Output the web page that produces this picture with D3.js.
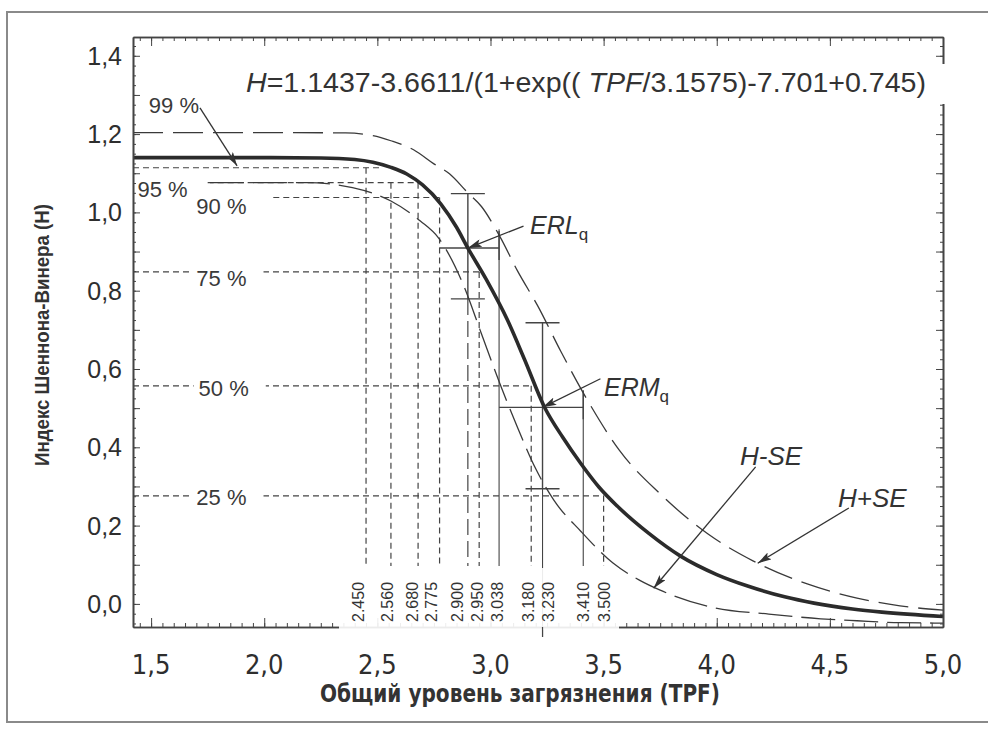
<!DOCTYPE html>
<html>
<head>
<meta charset="utf-8">
<script src="https://cdn.jsdelivr.net/npm/d3@7"></script>
<style>
  body { margin: 0; background: #fff; }
  svg { display: block; font-family: "Liberation Sans", Arial, sans-serif; }
</style>
</head>
<body>
<svg id="chart" width="988" height="730"></svg>
<script>
// ---- data ----
const xTicks = [1.5, 2.0, 2.5, 3.0, 3.5, 4.0, 4.5, 5.0];
const yTicks = [0.0, 0.2, 0.4, 0.6, 0.8, 1.0, 1.2, 1.4];

// fitted curve H
const mainTPF = [1.42, 1.94, 2.25, 2.40, 2.48, 2.56, 2.63, 2.70, 2.78, 2.85, 2.90, 2.98, 3.075, 3.15, 3.24, 3.32, 3.40, 3.48, 3.56, 3.70, 3.84, 4.00, 4.14, 4.30, 4.43, 4.60, 4.73, 5.0];
const mainH   = [1.140, 1.140, 1.139, 1.135, 1.128, 1.115, 1.098, 1.070, 1.022, 0.962, 0.909, 0.830, 0.725, 0.625, 0.501, 0.425, 0.358, 0.298, 0.250, 0.180, 0.122, 0.075, 0.045, 0.018, 0.002, -0.013, -0.021, -0.032];

// H+SE
const upperTPF = [1.42, 2.0, 2.36, 2.48, 2.56, 2.66, 2.75, 2.82, 2.90, 2.96, 3.04, 3.12, 3.21, 3.31, 3.43, 3.57, 3.75, 3.96, 4.16, 4.40, 4.62, 4.81, 5.0];
const upperH   = [1.204, 1.204, 1.203, 1.196, 1.183, 1.160, 1.124, 1.098, 1.050, 1.015, 0.940, 0.850, 0.760, 0.646, 0.519, 0.392, 0.281, 0.179, 0.110, 0.051, 0.015, -0.005, -0.016];

// H-SE
const lowerTPF = [1.76, 2.19, 2.39, 2.56, 2.69, 2.77, 2.88, 2.96, 3.04, 3.12, 3.20, 3.28, 3.40, 3.54, 3.66, 3.75, 3.99, 4.23, 4.46, 4.62, 4.81, 5.0];
const lowerH   = [1.076, 1.076, 1.063, 1.029, 0.978, 0.935, 0.815, 0.690, 0.565, 0.450, 0.345, 0.265, 0.185, 0.105, 0.060, 0.035, -0.010, -0.026, -0.038, -0.043, -0.048, -0.049];

// percentage levels
const pctLabels = ["99 %", "95 %", "90 %", "75 %", "50 %", "25 %"];
const pctH      = [1.114, 1.076, 1.038, 0.848, 0.557, 0.276];
const pctFrom   = [1.42, 1.75, 2.04, 1.42, 1.42, 1.42];
const pctTo     = [2.52, 2.68, 2.775, 2.95, 3.18, 3.50];

// drop lines to the TPF axis
const dropTPF  = [2.450, 2.560, 2.680, 2.775, 2.900, 2.950, 3.038, 3.180, 3.230, 3.410, 3.500];
const dropFrom = [1.114, 1.076, 1.076, 1.038, 0.779, 0.848, 0.957, 0.557, 0.294, 0.540, 0.276];

// ERL / ERM error crosses
const errNames = ["ERL", "ERM"];
const errX   = [2.900, 3.230];
const errY   = [0.909, 0.502];
const errXLo = [2.775, 3.038];
const errXHi = [3.038, 3.410];
const errYLo = [0.779, 0.294];
const errYHi = [1.048, 0.718];

// ---- drawing ----
const svg = d3.select("#chart");
const x = d3.scaleLinear().domain([1.42, 5.0]).range([133, 943]);
const y = d3.scaleLinear().domain([-0.059, 1.448]).range([627, 37]);
const ruLocale = d3.formatLocale({decimal: ",", thousands: " ", grouping: [3], currency: ["", ""]});
const f1 = ruLocale.format(".1f");

svg.append("rect").attr("width", 988).attr("height", 730).attr("fill", "#fff");
// outer frame of the scanned page
svg.append("rect").attr("x", 7).attr("y", 12).attr("width", 1000).attr("height", 710)
  .attr("fill", "none").attr("stroke", "#8a8a8a").attr("stroke-width", 2);

const defs = svg.append("defs");
defs.append("marker").attr("id", "arr").attr("viewBox", "0 0 14 8")
  .attr("refX", 14).attr("refY", 4).attr("markerWidth", 14).attr("markerHeight", 8)
  .attr("markerUnits", "userSpaceOnUse").attr("orient", "auto")
  .append("path").attr("d", "M0,0 L14,4 L0,8 L3,4 z").attr("fill", "#333");

const line = d3.line().x(d => x(d[0])).y(d => y(d[1])).curve(d3.curveMonotoneX);
const plot = svg.append("g");

// percentage lines
pctH.forEach((h, i) => {
  plot.append("line")
    .attr("x1", x(pctFrom[i])).attr("x2", x(pctTo[i]))
    .attr("y1", y(h)).attr("y2", y(h))
    .attr("stroke", "#444").attr("stroke-width", 1.2).attr("stroke-dasharray", "6,4");
});

// drop lines
const solidDrops = [3.038, 3.230, 3.410];
dropTPF.forEach((t, i) => {
  let dash = "6,4";
  if (solidDrops.includes(t)) dash = null;
  if (t === 2.900) dash = "16,6";
  plot.append("line")
    .attr("x1", x(t)).attr("x2", x(t))
    .attr("y1", y(dropFrom[i])).attr("y2", t === 3.230 ? 637 : 566)
    .attr("stroke", "#444").attr("stroke-width", solidDrops.includes(t) ? 1.1 : 1.2)
    .attr("stroke-dasharray", dash);
});

// error crosses
errX.forEach((cx, i) => {
  const g = plot.append("g").attr("stroke", "#444").attr("stroke-width", 1.4);
  g.append("line").attr("x1", x(cx)).attr("x2", x(cx)).attr("y1", y(errYLo[i])).attr("y2", y(errYHi[i]));
  g.append("line").attr("x1", x(errXLo[i])).attr("x2", x(errXHi[i])).attr("y1", y(errY[i])).attr("y2", y(errY[i]));
  [errYLo[i], errYHi[i]].forEach(v => {
    g.append("line").attr("x1", x(cx) - 17).attr("x2", x(cx) + 17).attr("y1", y(v)).attr("y2", y(v));
  });
  g.append("line").attr("x1", x(errXHi[i])).attr("x2", x(errXHi[i]))
    .attr("y1", y(errY[i]) - 17).attr("y2", y(errY[i]) + 12);
});

// SE curves and fitted curve
plot.append("path").datum(d3.zip(upperTPF, upperH)).attr("d", line)
  .attr("fill", "none").attr("stroke", "#3a3a3a").attr("stroke-width", 1.3).attr("stroke-dasharray", "30,10");
plot.append("path").datum(d3.zip(lowerTPF, lowerH)).attr("d", line)
  .attr("fill", "none").attr("stroke", "#3a3a3a").attr("stroke-width", 1.3).attr("stroke-dasharray", "34,9");
plot.append("path").datum(d3.zip(mainTPF, mainH)).attr("d", line)
  .attr("fill", "none").attr("stroke", "#2b2b2b").attr("stroke-width", 3.6);

// axes
function ticks(axis, vals, size) {
  return axis.tickValues(vals).tickSize(size).tickSizeOuter(0).tickFormat("");
}
const minorX = d3.range(1.45, 5.001, 0.05);
const minorY = d3.range(-0.05, 1.446, 0.025);
const majorY = d3.range(0, 1.41, 0.1);
const axes = svg.append("g").attr("color", "#444");
axes.append("g").attr("transform", "translate(0,627)").call(ticks(d3.axisBottom(x), minorX, -4));
axes.append("g").attr("transform", "translate(0,627)").call(ticks(d3.axisBottom(x), xTicks, -9));
axes.append("g").attr("transform", "translate(0,37)").call(ticks(d3.axisTop(x), minorX, -4));
axes.append("g").attr("transform", "translate(0,37)").call(ticks(d3.axisTop(x), xTicks, -9));
axes.append("g").attr("transform", "translate(133,0)").call(ticks(d3.axisLeft(y), minorY, -3));
axes.append("g").attr("transform", "translate(133,0)").call(ticks(d3.axisLeft(y), majorY, -7));
axes.append("g").attr("transform", "translate(943,0)").call(ticks(d3.axisRight(y), minorY, -3));
axes.append("g").attr("transform", "translate(943,0)").call(ticks(d3.axisRight(y), majorY, -7));
axes.selectAll(".domain").attr("stroke-width", 1.6);

// tick labels
const labels = svg.append("g").attr("fill", "#2e2e2e");
labels.selectAll("text.yl").data(yTicks).join("text").attr("class", "yl")
  .attr("x", 122).attr("y", d => y(d) + 9).attr("text-anchor", "end")
  .attr("font-size", 25).text(d => f1(d));
labels.selectAll("text.xl").data(xTicks).join("text").attr("class", "xl")
  .attr("x", d => x(d)).attr("y", 674).attr("text-anchor", "middle")
  .attr("font-family", "'Liberation Sans Narrow','DejaVu Sans Condensed',sans-serif")
  .attr("font-size", 27).text(d => f1(d));

// band behind the drop values
svg.append("rect").attr("x", 339).attr("y", 568).attr("width", 280).attr("height", 62)
  .attr("fill", "#fff").attr("opacity", 0.9);
const dropLabelShift = [-8, -4, -6, -9, -11, -2, -2, -3, 5, 0, 0];
svg.selectAll("text.dl").data(dropTPF).join("text").attr("class", "dl")
  .attr("transform", (d, i) => `translate(${x(d) + dropLabelShift[i] + 6},622) rotate(-90)`)
  .attr("font-size", 16).attr("fill", "#333").text(d => d3.format(".3f")(d));
svg.append("line").attr("x1", x(3.23)).attr("x2", x(3.23)).attr("y1", 627).attr("y2", 637)
  .attr("stroke", "#444").attr("stroke-width", 1.2);

// percentage labels
const pctPos = [[1.49, 113], [1.44, 197], [1.70, 214], [1.70, 286], [1.71, 396], [1.70, 505]];
pctLabels.forEach((s, i) => {
  const t = svg.append("text").attr("x", x(pctPos[i][0])).attr("y", pctPos[i][1])
    .attr("font-size", 22).attr("fill", "#3a3a3a").text(s);
  if (i >= 3) {
    const b = t.node().getBBox();
    svg.insert("rect", () => t.node()).attr("x", b.x - 5).attr("y", b.y + 3)
      .attr("width", b.width + 22).attr("height", b.height - 6).attr("fill", "#fff");
  }
});

// equation
svg.append("rect").attr("x", 242).attr("y", 64).attr("width", 712).attr("height", 40).attr("fill", "#fff");
const eq = svg.append("text").attr("x", 246).attr("y", 92).attr("font-size", 28).attr("fill", "#333")
  .attr("textLength", 680).attr("lengthAdjust", "spacingAndGlyphs");
eq.append("tspan").attr("font-style", "italic").text("H");
eq.append("tspan").text("=1.1437-3.6611/(1+exp(( ");
eq.append("tspan").attr("font-style", "italic").text("TPF");
eq.append("tspan").text("/3.1575)-7.701+0.745)");

// annotations with arrows
const notes = [
  {tail: [1.716, 1.267], tip: [1.88, 1.119]},
  {tail: [3.146, 0.965], tip: [errX[0], errY[0]]},
  {tail: [3.486, 0.575], tip: [errX[1], errY[1]]},
  {tail: [4.172, 0.350], tip: [3.721, 0.040]},
  {tail: [4.584, 0.245], tip: [4.181, 0.104]}
];
notes.forEach(n => {
  svg.append("line").attr("x1", x(n.tail[0])).attr("y1", y(n.tail[1]))
    .attr("x2", x(n.tip[0])).attr("y2", y(n.tip[1]))
    .attr("stroke", "#333").attr("stroke-width", 1.3).attr("marker-end", "url(#arr)");
});

const tags = [[errNames[0], 530, 234], [errNames[1], 604, 396]];
tags.forEach(([s, tx, ty]) => {
  const t = svg.append("text").attr("x", tx).attr("y", ty).attr("font-size", 25).attr("fill", "#333");
  t.append("tspan").attr("font-style", "italic").text(s);
  t.append("tspan").attr("font-size", 17).attr("dy", 6).text("q");
});
svg.append("text").attr("x", 740).attr("y", 465).attr("font-size", 26).attr("font-style", "italic")
  .attr("fill", "#333").text("H-SE");
svg.append("text").attr("x", 838).attr("y", 507).attr("font-size", 26).attr("font-style", "italic")
  .attr("fill", "#333").text("H+SE");

// axis titles
svg.append("text").attr("x", 520).attr("y", 702).attr("text-anchor", "middle")
  .attr("font-family", "'Liberation Sans Narrow','DejaVu Sans Condensed',sans-serif")
  .attr("font-weight", "bold").attr("font-size", 25).attr("fill", "#333")
  .attr("textLength", 400).attr("lengthAdjust", "spacingAndGlyphs")
  .text("Общий уровень загрязнения (TPF)");
svg.append("text").attr("transform", "translate(49,335) rotate(-90)").attr("text-anchor", "middle")
  .attr("font-weight", "bold").attr("font-size", 21).attr("fill", "#333")
  .attr("textLength", 262).attr("lengthAdjust", "spacingAndGlyphs")
  .text("Индекс Шеннона-Винера (H)");
</script>
</body>
</html>
